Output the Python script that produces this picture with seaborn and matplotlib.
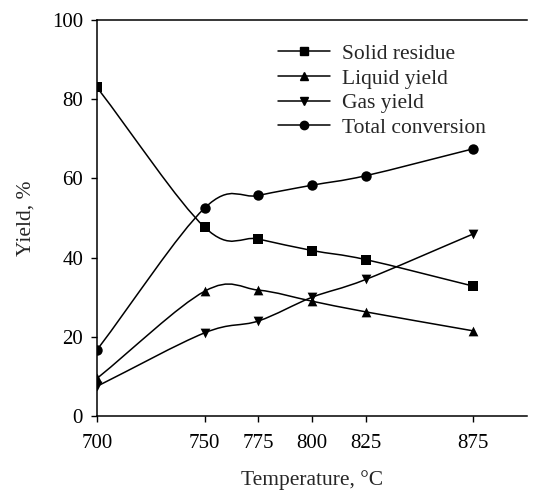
import numpy as np
import pandas as pd
import matplotlib
matplotlib.use("Agg")
import matplotlib.pyplot as plt
from matplotlib.path import Path
from matplotlib.patches import PathPatch
from matplotlib.lines import Line2D
import seaborn as sns

temperature = [700, 750, 775, 800, 825, 875]
solid_residue = [83.0, 47.7, 44.7, 41.8, 39.5, 32.8]
liquid_yield = [9.5, 31.5, 31.8, 29.0, 26.3, 21.5]
gas_yield = [7.5, 21.0, 24.0, 30.0, 34.5, 46.0]
total_conversion = [16.7, 52.5, 55.7, 58.3, 60.7, 67.5]
series_names = ["Solid residue", "Liquid yield", "Gas yield", "Total conversion"]
x_ticks = [700, 750, 775, 800, 825, 875]
y_ticks = [0, 20, 40, 60, 80, 100]

sns.set_theme(style="ticks")
plt.rcParams["font.family"] = ["Liberation Serif", "DejaVu Serif"]

fig = plt.figure(figsize=(5.33, 4.9), dpi=100)
ax = fig.add_axes([0.182, 0.151, 0.807, 0.808])

markers = ["s", "^", "v", "o"]
msizes = [7, 7, 7, 7.5]
all_y = [solid_residue, liquid_yield, gas_yield, total_conversion]


def smooth_path(xs, ys):
    pts = np.column_stack([xs, ys]).astype(float)
    n = len(pts)
    verts = [pts[0]]
    codes = [Path.MOVETO]
    for i in range(n - 1):
        p1 = pts[i]
        p2 = pts[i + 1]
        p0 = pts[i - 1] if i > 0 else 2 * p1 - p2
        p3 = pts[i + 2] if i + 2 < n else 2 * p2 - p1
        c1 = p1 + (p2 - p0) / 6.0
        c2 = p2 - (p3 - p1) / 6.0
        verts += [c1, c2, p2]
        codes += [Path.CURVE4] * 3
    return Path(verts, codes)


handles = []
for name, ys, mk, ms in zip(series_names, all_y, markers, msizes):
    df = pd.DataFrame({"T": temperature, "Y": ys})
    ax.add_patch(PathPatch(smooth_path(df["T"], df["Y"]), facecolor="none",
                           edgecolor="black", lw=1.1, zorder=2))
    sns.scatterplot(data=df, x="T", y="Y", marker=mk, s=ms ** 2, color="black",
                    edgecolor="black", linewidth=0, ax=ax, zorder=3)
    handles.append(Line2D([0], [0], color="black", lw=1.1, marker=mk,
                          markersize=ms - 1.5, label=name))

ax.set_xlim(700, 900)
ax.set_ylim(0, 100)
ax.set_xticks(x_ticks)
ax.set_yticks(y_ticks)
ax.tick_params(direction="out", length=4, width=1, labelsize=15, colors="black")
ax.tick_params(axis="x", pad=9)
ax.tick_params(axis="y", pad=6)
for s in ["left", "bottom", "top"]:
    ax.spines[s].set_color("black")
    ax.spines[s].set_linewidth(1.1)
ax.spines["right"].set_visible(False)
ax.set_xlabel("Temperature, °C", fontsize=15.5, labelpad=12)
ax.set_ylabel("Yield, %", fontsize=15.5, labelpad=12)
ax.legend(handles=handles, loc="upper left", bbox_to_anchor=(0.421, 0.94),
          frameon=False, fontsize=15.5, handlelength=2.4, handletextpad=0.55,
          labelspacing=0.21, borderaxespad=0, borderpad=0)

fig.savefig("out.png", dpi=100)
